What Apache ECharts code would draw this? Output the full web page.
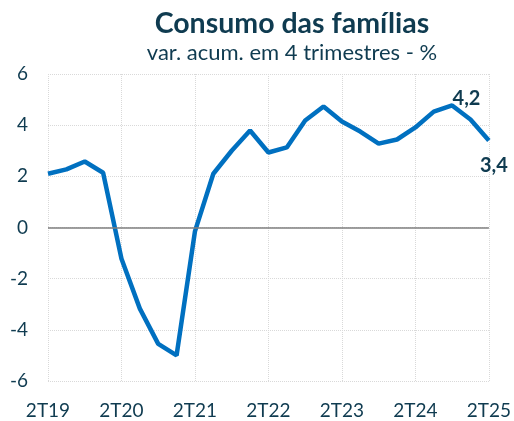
<!DOCTYPE html>
<html>
<head>
<meta charset="utf-8">
<script src="https://cdn.jsdelivr.net/npm/echarts@6/dist/echarts.min.js"></script>
<style>
  html, body { margin: 0; padding: 0; background: #fff; }
  #chart { width: 514px; height: 421px; }
</style>
</head>
<body>
<div id="chart"></div>
<script>
  // trimestres
  const quarters = [
    '2T19', '3T19', '4T19', '1T20', '2T20', '3T20', '4T20', '1T21',
    '2T21', '3T21', '4T21', '1T22', '2T22', '3T22', '4T22', '1T23',
    '2T23', '3T23', '4T23', '1T24', '2T24', '3T24', '4T24', '1T25', '2T25'
  ]
  // var. acum. em 4 trimestres - %
  const consumo = [
    2.1, 2.27, 2.58, 2.14, -1.22, -3.17, -4.55, -5.0,
    -0.15, 2.1, 3.0, 3.79, 2.93, 3.13, 4.18, 4.73,
    4.14, 3.75, 3.28, 3.44, 3.91, 4.53, 4.77, 4.22, 3.4
  ]
  const yTicks = [-6, -4, -2, 0, 2, 4, 6]

  const textColor = '#0f3b50'
  const fmt = v => v.toFixed(1).replace('.', ',')
  const last = consumo.length - 1

  const chart = echarts.init(document.getElementById('chart'))
  const option = {
    backgroundColor: '#fff',
    textStyle: { fontFamily: 'Lato' },
    title: {
      text: 'Consumo das famílias',
      subtext: 'var. acum. em 4 trimestres - %',
      left: 287,
      textAlign: 'center',
      top: 4,
      itemGap: 4,
      textStyle: { color: textColor, fontSize: 28.5, fontWeight: 'bold', fontFamily: 'Lato' },
      subtextStyle: { color: textColor, fontSize: 22, fontFamily: 'Lato' }
    },
    grid: { left: 48, right: 22, top: 74, bottom: 40 },
    xAxis: {
      type: 'category',
      data: quarters,
      boundaryGap: false,
      axisLine: { show: false },
      axisTick: { show: false },
      axisLabel: {
        interval: 3,
        color: textColor,
        fontSize: 19,
        margin: 20,
        fontFamily: 'Lato'
      },
      splitLine: {
        show: true,
        interval: 3,
        lineStyle: { color: '#d9d9d9', type: 'dotted', width: 1 }
      }
    },
    yAxis: {
      type: 'value',
      min: yTicks[0],
      max: yTicks[yTicks.length - 1],
      interval: 2,
      axisLine: { show: false },
      axisTick: { show: false },
      axisLabel: { color: textColor, fontSize: 19, margin: 20, fontFamily: 'Lato' },
      splitLine: { lineStyle: { color: '#d9d9d9', type: 'dotted', width: 1 } }
    },
    series: [
      {
        name: 'Consumo',
        type: 'line',
        data: consumo.map((v, i) => {
          if (i === 23) {
            return { value: v, label: { show: true, position: 'top', formatter: () => fmt(v) } }
          }
          if (i === last) {
            return { value: v, label: { show: true, position: 'bottom', formatter: () => fmt(v) } }
          }
          return v
        }),
        showSymbol: true,
        symbol: 'circle',
        symbolSize: 0.1,
        itemStyle: { color: '#0070c0' },
        lineStyle: { color: '#0070c0', width: 4.5 },
        label: { color: textColor, fontSize: 20, fontWeight: 'bold', fontFamily: 'Lato' },
        labelLayout: function (params) {
          if (params.dataIndex === 23) return { dx: -4, dy: -6, hideOverlap: false }
          if (params.dataIndex === last) return { dx: 5, dy: 10, hideOverlap: false }
          return {}
        },
        markLine: {
          silent: true,
          symbol: 'none',
          label: { show: false },
          lineStyle: { color: '#7f7f7f', type: 'solid', width: 1.5 },
          data: [{ yAxis: 0 }]
        },
        z: 3
      }
    ],
    animation: false
  }
  chart.setOption(option)
</script>
</body>
</html>
